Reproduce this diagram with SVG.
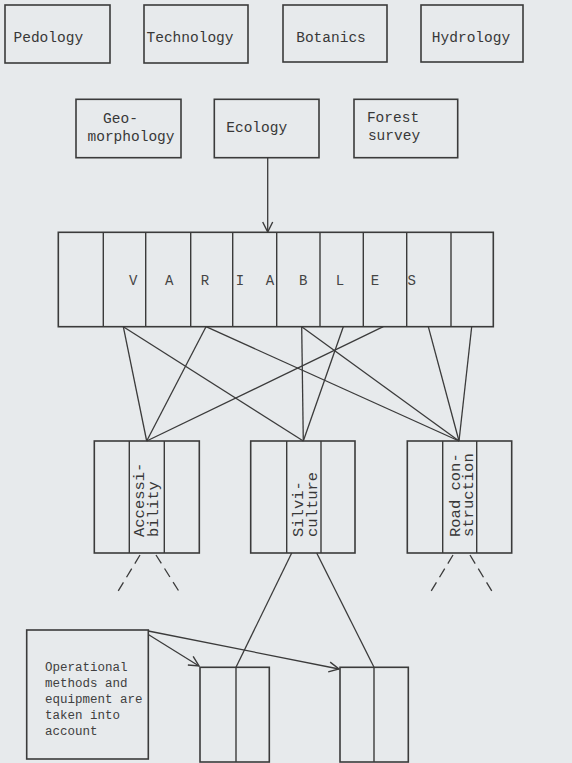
<svg xmlns="http://www.w3.org/2000/svg" width="572" height="763" viewBox="0 0 572 763">
<style>
.bg{fill:#e7eaec}
.box{fill:none;stroke:#3b3b3b;stroke-width:1.6}
.dv{stroke:#3b3b3b;stroke-width:1.4}
.lbl{font-family:"Liberation Mono","Courier New",monospace;font-size:14.5px;fill:#383838;text-anchor:middle}
.vl{font-family:"Liberation Mono","Courier New",monospace;font-size:14px;fill:#444;text-anchor:middle}
.rot{font-family:"Liberation Mono","Courier New",monospace;font-size:15.5px;fill:#383838}
.op{font-family:"Liberation Mono","Courier New",monospace;font-size:12.5px;fill:#404040}
.ln{stroke:#3b3b3b;stroke-width:1.3;fill:none}
.dash{stroke-dasharray:10 6}
</style>
<defs>
<marker id="arr" viewBox="0 0 12 12" refX="11" refY="6" markerWidth="12" markerHeight="12" markerUnits="userSpaceOnUse" orient="auto">
<path d="M1,1 L11,6 L1,11" fill="none" stroke="#3b3b3b" stroke-width="1.4"/>
</marker>
</defs>
<rect class="bg" x="0" y="0" width="572" height="763"/>

<g id="pedology"><rect class="box" x="5" y="5" width="105" height="58"/><text class="lbl" x="48.3" y="42">Pedology</text></g>
<g id="technology"><rect class="box" x="144" y="5" width="104" height="58"/><text class="lbl" x="190" y="42">Technology</text></g>
<g id="botanics"><rect class="box" x="283" y="5" width="104" height="57"/><text class="lbl" x="331" y="42">Botanics</text></g>
<g id="hydrology"><rect class="box" x="421" y="5" width="102" height="57"/><text class="lbl" x="471" y="42">Hydrology</text></g>

<g id="geomorphology"><rect class="box" x="76" y="99.3" width="105" height="58.4"/><text class="lbl" x="120.5" y="123.3">Geo-</text><text class="lbl" x="131" y="140.7">morphology</text></g>
<g id="ecology"><rect class="box" x="214.3" y="99.3" width="104.7" height="58.4"/><text class="lbl" x="256.7" y="131.7">Ecology</text></g>
<g id="forest-survey"><rect class="box" x="354" y="99.3" width="103.7" height="58.4"/><text class="lbl" x="393" y="121.7">Forest</text><text class="lbl" x="394" y="140">survey</text></g>

<g id="variables">
<rect class="box" x="58.3" y="232.3" width="435" height="94.4"/>
<line class="dv" x1="103.3" y1="232.3" x2="103.3" y2="326.7"/>
<line class="dv" x1="145.7" y1="232.3" x2="145.7" y2="326.7"/>
<line class="dv" x1="190.7" y1="232.3" x2="190.7" y2="326.7"/>
<line class="dv" x1="232.7" y1="232.3" x2="232.7" y2="326.7"/>
<line class="dv" x1="276.7" y1="232.3" x2="276.7" y2="326.7"/>
<line class="dv" x1="320" y1="232.3" x2="320" y2="326.7"/>
<line class="dv" x1="363.3" y1="232.3" x2="363.3" y2="326.7"/>
<line class="dv" x1="406.7" y1="232.3" x2="406.7" y2="326.7"/>
<line class="dv" x1="451" y1="232.3" x2="451" y2="326.7"/>
<text class="vl" x="133.3" y="285">V</text>
<text class="vl" x="169.3" y="285">A</text>
<text class="vl" x="205" y="285">R</text>
<text class="vl" x="240" y="285">I</text>
<text class="vl" x="270" y="285">A</text>
<text class="vl" x="303.3" y="285">B</text>
<text class="vl" x="340" y="285">L</text>
<text class="vl" x="375" y="285">E</text>
<text class="vl" x="411.7" y="285">S</text>
</g>

<g id="accessibility">
<rect class="box" x="94.3" y="441" width="105" height="112"/>
<line class="dv" x1="129.3" y1="441" x2="129.3" y2="553"/>
<line class="dv" x1="164.3" y1="441" x2="164.3" y2="553"/>
<text class="rot" transform="translate(144,537) rotate(-90)">Accessi-</text>
<text class="rot" transform="translate(157.5,537) rotate(-90)">bility</text>
</g>
<g id="silviculture">
<rect class="box" x="250.7" y="441" width="104.3" height="112"/>
<line class="dv" x1="286.7" y1="441" x2="286.7" y2="553"/>
<line class="dv" x1="321" y1="441" x2="321" y2="553"/>
<text class="rot" transform="translate(303,537) rotate(-90)">Silvi-</text>
<text class="rot" transform="translate(316.5,537) rotate(-90)">culture</text>
</g>
<g id="road-construction">
<rect class="box" x="407.3" y="441" width="104.4" height="112"/>
<line class="dv" x1="442.7" y1="441" x2="442.7" y2="553"/>
<line class="dv" x1="476.7" y1="441" x2="476.7" y2="553"/>
<text class="rot" transform="translate(459.5,537) rotate(-90)">Road con-</text>
<text class="rot" transform="translate(473,537) rotate(-90)">struction</text>
</g>

<g id="operational">
<rect class="box" x="26.7" y="630" width="121.6" height="129"/>
<text class="op" x="45" y="671">Operational</text>
<text class="op" x="45" y="687">methods and</text>
<text class="op" x="45" y="703">equipment are</text>
<text class="op" x="45" y="719">taken into</text>
<text class="op" x="45" y="735">account</text>
</g>
<g id="box-1">
<rect class="box" x="200" y="667.3" width="69.3" height="94.7"/>
<line class="dv" x1="236" y1="667.3" x2="236" y2="762"/>
</g>
<g id="box-2">
<rect class="box" x="340" y="667.3" width="68.3" height="94.7"/>
<line class="dv" x1="374" y1="667.3" x2="374" y2="762"/>
</g>

<g id="connectors">
<line class="ln" x1="267.7" y1="157.7" x2="267.7" y2="232" marker-end="url(#arr)"/>
<line class="ln" x1="123.3" y1="326.7" x2="146.7" y2="441"/>
<line class="ln" x1="206" y1="326.7" x2="146.7" y2="441"/>
<line class="ln" x1="383.3" y1="326.7" x2="146.7" y2="441"/>
<line class="ln" x1="123.3" y1="326.7" x2="303.3" y2="441"/>
<line class="ln" x1="301.7" y1="326.7" x2="303.3" y2="441"/>
<line class="ln" x1="343.3" y1="326.7" x2="303.3" y2="441"/>
<line class="ln" x1="206" y1="326.7" x2="459" y2="441"/>
<line class="ln" x1="301.7" y1="326.7" x2="459" y2="441"/>
<line class="ln" x1="428.3" y1="326.7" x2="459" y2="441"/>
<line class="ln" x1="471.7" y1="326.7" x2="459" y2="441"/>
<line class="ln dash" x1="140" y1="555" x2="117" y2="593"/>
<line class="ln dash" x1="156" y1="555" x2="180" y2="593"/>
<line class="ln dash" x1="453" y1="555" x2="430" y2="593"/>
<line class="ln dash" x1="470" y1="555" x2="493" y2="593"/>
<line class="ln" x1="291.7" y1="553" x2="236" y2="667.3"/>
<line class="ln" x1="316.7" y1="553" x2="374" y2="667.3"/>
<line class="ln" x1="148.3" y1="634.5" x2="199" y2="666" marker-end="url(#arr)"/>
<line class="ln" x1="148.3" y1="631" x2="339" y2="669" marker-end="url(#arr)"/>
</g>
</svg>
